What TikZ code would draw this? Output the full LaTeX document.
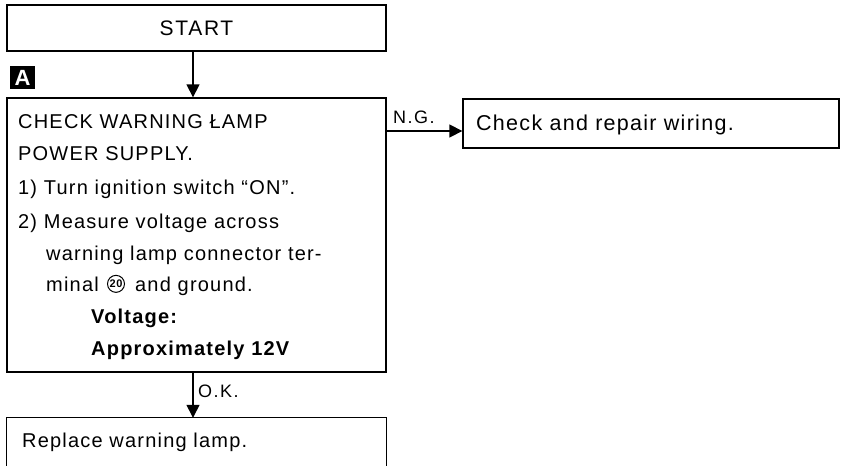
\documentclass[tikz,border=0pt]{standalone}
\usepackage{fontspec}
\setmainfont{Liberation Sans}[LetterSpace=6]
\newfontfamily\lblfont{Liberation Sans}[LetterSpace=8]
\usetikzlibrary{arrows.meta,positioning,calc}
\begin{document}
\begin{tikzpicture}[x=1pt,y=-1pt,
  box/.style={draw, line width=1.3pt, rectangle, inner sep=0pt},
  arr/.style={line width=1.3pt, -{Triangle[length=13pt,width=13pt]}},
  txt/.style={anchor=base west, inner sep=0pt, font=\fontsize{20}{20}\selectfont},
  btxt/.style={txt, font=\fontsize{20}{20}\selectfont\bfseries},
  lbl/.style={anchor=base west, inner sep=0pt, font=\lblfont\fontsize{18}{18}\selectfont},
  circ/.style={circle, draw, line width=1pt, inner sep=0pt, minimum size=17pt, font=\fontsize{11}{11}\selectfont\bfseries}]
\useasboundingbox (0,0) rectangle (841,466);
% boxes
\node[box, minimum width=379pt, minimum height=46pt, font=\lblfont\fontsize{21}{21}\selectfont] (start) at (196.5,28) {START};
\node[fill=black, text=white, minimum width=25pt, minimum height=23pt, inner sep=0pt, font=\fontsize{22}{22}\selectfont\bfseries] (lblA) at (22.5,77.5) {A};
\node[box, minimum width=379pt, minimum height=274pt] (main) at (196.5,235) {};
\node[box, minimum width=376pt, minimum height=49pt] (check) at (651,123.5) {};
\node[minimum width=379pt, minimum height=50pt, inner sep=0pt] (replace) at (196.5,443) {};
\draw[line width=1.3pt] (replace.south west) -- (replace.north west) -- (replace.north east) -- (replace.south east);
% texts
\node[txt] (l1) at (18,128) {CHECK WARNING ŁAMP};
\node[txt] (l2) at (18,160) {POWER SUPPLY.};
\node[txt] (l3) at (18,194) {1) Turn ignition switch “ON”.};
\node[txt] (l4) at (18,228) {2) Measure voltage across};
\node[txt] (l5) at (46,260) {warning lamp connector ter-};
\node[txt] (l6) at (46,291) {minal};
\node[circ, right=8pt of l6] (n20) {20};
\node[txt] (l6c) at ($(l6.base -| n20.east)+(10,0)$) {and ground.};
\node[btxt] (l7) at (91,323) {Voltage:};
\node[btxt] (l8) at (91,355) {Approximately 12V};
\node[txt, font=\fontsize{21.5}{21.5}\selectfont] (checktxt) at (476,130) {Check and repair wiring.};
\node[txt] (reptxt) at (22,447) {Replace warning lamp.};
% connectors
\coordinate (ax) at (193,0);
\coordinate (ngy) at (0,131);
\draw[arr] (start.south -| ax) -- (main.north -| ax);
\draw[arr] (main.east |- ngy) -- (check.west |- ngy);
\draw[arr] (main.south -| ax) -- (replace.north -| ax);
\node[lbl] (ng) at (393,123) {N.G.};
\node[lbl] (ok) at (198,397) {O.K.};
\end{tikzpicture}
\end{document}
